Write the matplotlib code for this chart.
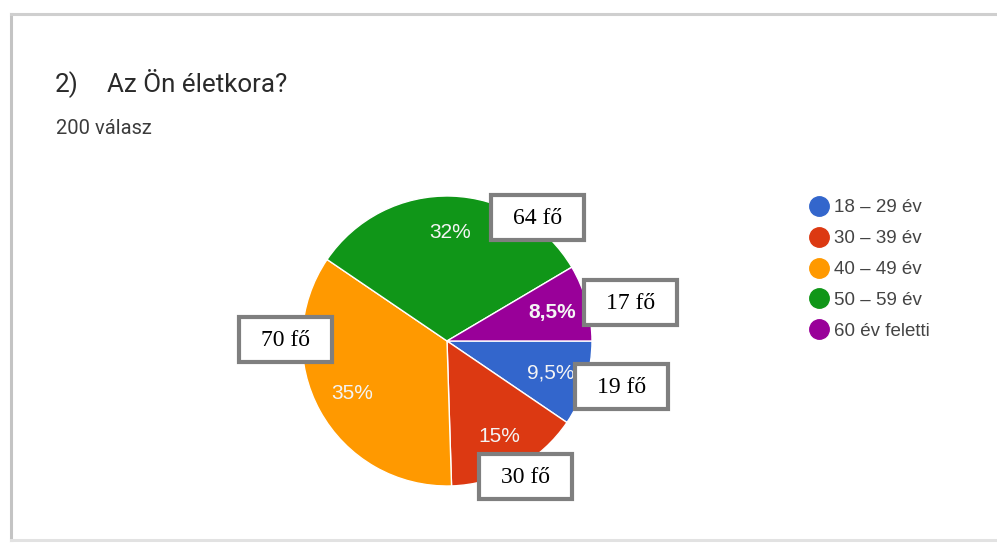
import matplotlib
matplotlib.use('Agg')
import matplotlib.pyplot as plt
import numpy as np
from matplotlib.patches import Rectangle
from matplotlib.lines import Line2D

# data
labels = ['18 – 29 év', '30 – 39 év', '40 – 49 év', '50 – 59 év', '60 év feletti']
counts = [19, 30, 70, 64, 17]
colors = ['#3366cc', '#dc3912', '#ff9900', '#109618', '#990099']
total = 200

W, H = 997, 544
fig = plt.figure(figsize=(W / 100, H / 100), dpi=100)
fig.patch.set_facecolor('white')


def px(x, y):
    # pixel (top-left origin) -> figure fraction
    return x / W, 1 - y / H


# card frame (screenshot shadow)
fig.add_artist(Line2D([11 / W, 11 / W], [1 - 14 / H, 1 - 540 / H], color='#c4c4c4', lw=2.2))
fig.add_artist(Line2D([11 / W, 1], [1 - 14 / H, 1 - 14 / H], color='#cfcfcf', lw=2.2))
fig.add_artist(Line2D([11 / W, 1], [1 - 540 / H, 1 - 540 / H], color='#e2e2e2', lw=2.2))

# title
fig.text(*px(55, 85), '2)', fontsize=18.7, family='Roboto', color='#2a2a2a', va='center')
fig.text(*px(107, 85), 'Az Ön életkora?', fontsize=18.7, family='Roboto', color='#2a2a2a', va='center')
fig.text(*px(56, 128), f'{total} válasz', fontsize=14.5, family='Roboto', color='#3c3c3c', va='center')

# pie
cx, cy, r = 447, 341, 145
ax = fig.add_axes([(cx - r) / W, (H - cy - r) / H, 2 * r / W, 2 * r / H])
pct_labels = [('%g' % (c / total * 100)).replace('.', ',') + '%' for c in counts]
wedges, _ = ax.pie(counts, colors=colors, startangle=0, counterclock=False, radius=1,
                   wedgeprops=dict(edgecolor='white', linewidth=1))
for w, lab, c in zip(wedges, pct_labels, counts):
    mid = np.deg2rad((w.theta1 + w.theta2) / 2)
    ax.text(0.75 * np.cos(mid), 0.75 * np.sin(mid), lab, ha='center', va='center',
            color='#f4f4f4', fontsize=15, family='Liberation Sans',
            fontweight='bold' if c == 17 else 'normal')
ax.set_xlim(-1, 1)
ax.set_ylim(-1, 1)
ax.axis('off')

# legend
handles = [Line2D([], [], marker='o', ls='', markersize=14, markerfacecolor=c, markeredgecolor=c)
           for c in colors]
fig.legend(handles, labels, loc='upper left', bbox_to_anchor=px(796, 190), frameon=False,
           prop={'family': 'Liberation Sans', 'size': 13.5}, labelcolor='#444444',
           handletextpad=0.1, labelspacing=0.73, handlelength=1.4, borderpad=0)

# boxed head counts
boxes = [(491, 195, '64 fő'), (584, 280, '17 fő'), (239, 317, '70 fő'),
         (575, 364, '19 fő'), (479, 454, '30 fő')]
bw, bh = 93, 45
for x, y, t in boxes:
    x0, y1 = px(x, y + bh)
    fig.add_artist(Rectangle((x0, y1), bw / W, bh / H, transform=fig.transFigure,
                             facecolor='white', edgecolor='#7f7f7f', lw=3))
    fig.text(*px(x + bw / 2, y + bh / 2 + 1), t, ha='center', va='center',
             fontsize=17, family='Liberation Serif', color='black')

fig.savefig('out.png', dpi=100)
